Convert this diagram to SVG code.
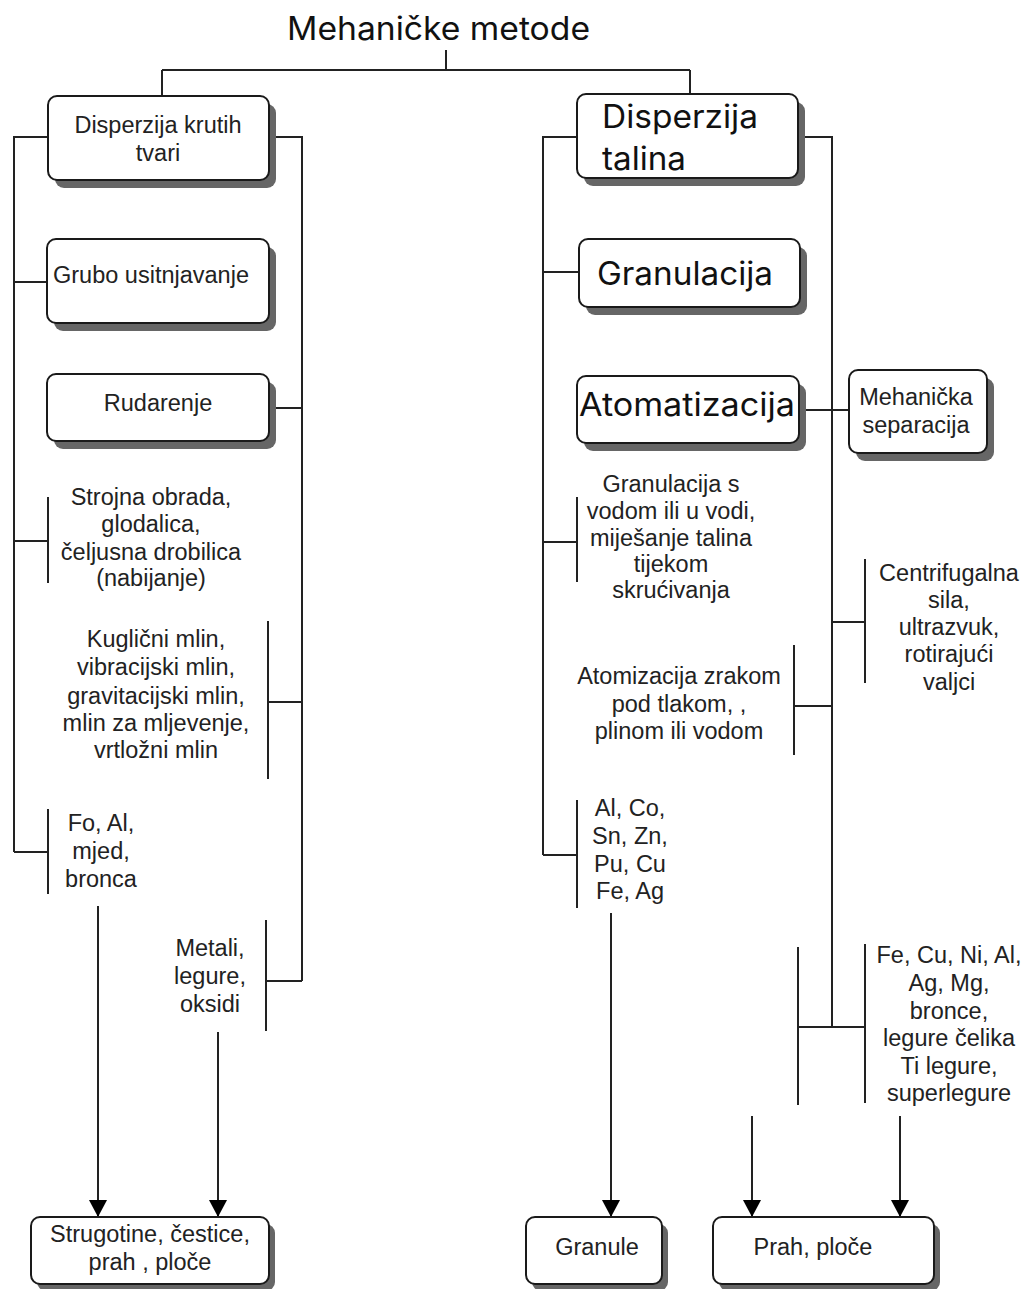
<svg xmlns="http://www.w3.org/2000/svg" width="1024" height="1289" viewBox="0 0 1024 1289">
<defs>
<style>
.box{fill:#ffffff;stroke:#1a1a1a;stroke-width:2}
.sh{fill:#666666}
.ln{fill:none;stroke:#222;stroke-width:2}
.t{font-family:"Liberation Sans",Arial,sans-serif;font-size:23.5px;fill:#222;text-anchor:middle}
.big{font-family:Inter,"Liberation Sans",sans-serif;font-size:32px;fill:#111}
.title{font-family:Inter,"Liberation Sans",sans-serif;font-size:32px;fill:#111;text-anchor:middle}
</style>
<marker id="arr" markerUnits="userSpaceOnUse" markerWidth="18" markerHeight="18" refX="17" refY="9" orient="auto">
<path d="M0,0 L17,9 L0,18 z" fill="#000"/>
</marker>
</defs>
<rect width="1024" height="1289" fill="#ffffff"/>

<g id="connectors">
<path class="ln" d="M446 50 V70 M162 70 H690 M162 70 V96 M690 70 V94"/>
<path class="ln" d="M48 137 H14 V852 M14 282 H47 M14 541 H48 M48 497 V583 M14 852 H48 M48 809 V894"/>
<path class="ln" d="M269 137 H302 V981 M269 408 H302 M268 702 H302 M268 621 V779 M266 981 H302 M266 920 V1031"/>
<path class="ln" d="M577 137 H543 V855 M543 272 H579 M543 542 H577 M577 497 V582 M543 855 H577 M577 800 V908"/>
<path class="ln" d="M798 137 H832 V1027 M799 410 H849 M832 622 H865 M865 559 V683 M794 706 H832 M794 645 V755 M798 1027 H865 M798 947 V1105 M865 944 V1103"/>
<path class="ln" d="M98 906 V1217" marker-end="url(#arr)"/>
<path class="ln" d="M218 1032 V1217" marker-end="url(#arr)"/>
<path class="ln" d="M611 913 V1217" marker-end="url(#arr)"/>
<path class="ln" d="M752 1116 V1217" marker-end="url(#arr)"/>
<path class="ln" d="M900 1116 V1217" marker-end="url(#arr)"/>
</g>

<g id="title"><text class="title" x="438.5" y="40" textLength="303" lengthAdjust="spacingAndGlyphs">Mehaničke metode</text></g>

<g id="n-disperzija-krutih">
<rect class="sh" x="55" y="104" width="221" height="84" rx="9"/>
<rect class="box" x="48" y="96" width="221" height="84" rx="9"/>
<text class="t" x="158" y="133">Disperzija krutih</text>
<text class="t" x="158" y="161">tvari</text>
</g>
<g id="n-grubo">
<rect class="sh" x="54" y="247" width="222" height="84" rx="9"/>
<rect class="box" x="47" y="239" width="222" height="84" rx="9"/>
<text class="t" x="151" y="283">Grubo usitnjavanje</text>
</g>
<g id="n-rudarenje">
<rect class="sh" x="54" y="382" width="222" height="67" rx="9"/>
<rect class="box" x="47" y="374" width="222" height="67" rx="9"/>
<text class="t" x="158" y="411">Rudarenje</text>
</g>
<g id="n-strojna">
<text class="t" x="151" y="505">Strojna obrada,</text>
<text class="t" x="151" y="532">glodalica,</text>
<text class="t" x="151" y="560">čeljusna drobilica</text>
<text class="t" x="151" y="586">(nabijanje)</text>
</g>
<g id="n-kuglicni">
<text class="t" x="156" y="647">Kuglični mlin,</text>
<text class="t" x="156" y="675">vibracijski mlin,</text>
<text class="t" x="156" y="704">gravitacijski mlin,</text>
<text class="t" x="156" y="731">mlin za mljevenje,</text>
<text class="t" x="156" y="758">vrtložni mlin</text>
</g>
<g id="n-fo-al">
<text class="t" x="101" y="831">Fo, Al,</text>
<text class="t" x="101" y="859">mjed,</text>
<text class="t" x="101" y="887">bronca</text>
</g>
<g id="n-metali">
<text class="t" x="210" y="956">Metali,</text>
<text class="t" x="210" y="984">legure,</text>
<text class="t" x="210" y="1012">oksidi</text>
</g>
<g id="n-strugotine">
<rect class="sh" x="37" y="1224" width="238" height="67" rx="9"/>
<rect class="box" x="31" y="1217" width="238" height="67" rx="9"/>
<text class="t" x="150" y="1242">Strugotine, čestice,</text>
<text class="t" x="150" y="1270">prah , ploče</text>
</g>

<g id="n-disperzija-talina">
<rect class="sh" x="584" y="102" width="221" height="84" rx="9"/>
<rect class="box" x="577" y="94" width="221" height="84" rx="9"/>
<text class="big" x="602" y="128" textLength="156" lengthAdjust="spacingAndGlyphs">Disperzija</text>
<text class="big" x="602" y="170" textLength="84" lengthAdjust="spacingAndGlyphs">talina</text>
</g>
<g id="n-granulacija">
<rect class="sh" x="586" y="247" width="221" height="68" rx="9"/>
<rect class="box" x="579" y="239" width="221" height="68" rx="9"/>
<text class="big" x="597" y="285" textLength="176" lengthAdjust="spacingAndGlyphs">Granulacija</text>
</g>
<g id="n-atomatizacija">
<rect class="sh" x="584" y="384" width="222" height="67" rx="9"/>
<rect class="box" x="577" y="376" width="222" height="67" rx="9"/>
<text class="big" x="579" y="416" textLength="216" lengthAdjust="spacingAndGlyphs">Atomatizacija</text>
</g>
<g id="n-mehanicka">
<rect class="sh" x="856" y="378" width="138" height="83" rx="9"/>
<rect class="box" x="849" y="370" width="138" height="83" rx="9"/>
<text class="t" x="916" y="405">Mehanička</text>
<text class="t" x="916" y="433">separacija</text>
</g>
<g id="n-granulacija-s">
<text class="t" x="671" y="492">Granulacija s</text>
<text class="t" x="671" y="519">vodom ili u vodi,</text>
<text class="t" x="671" y="546">miješanje talina</text>
<text class="t" x="671" y="572">tijekom</text>
<text class="t" x="671" y="598">skrućivanja</text>
</g>
<g id="n-centrifugalna">
<text class="t" x="949" y="581">Centrifugalna</text>
<text class="t" x="949" y="608">sila,</text>
<text class="t" x="949" y="635">ultrazvuk,</text>
<text class="t" x="949" y="662">rotirajući</text>
<text class="t" x="949" y="690">valjci</text>
</g>
<g id="n-atomizacija-zrakom">
<text class="t" x="679" y="684">Atomizacija zrakom</text>
<text class="t" x="679" y="712">pod tlakom, ,</text>
<text class="t" x="679" y="739">plinom ili vodom</text>
</g>
<g id="n-al-co">
<text class="t" x="630" y="816">Al, Co,</text>
<text class="t" x="630" y="844">Sn, Zn,</text>
<text class="t" x="630" y="872">Pu, Cu</text>
<text class="t" x="630" y="899">Fe, Ag</text>
</g>
<g id="n-fe-cu">
<text class="t" x="949" y="963">Fe, Cu, Ni, Al,</text>
<text class="t" x="949" y="991">Ag, Mg,</text>
<text class="t" x="949" y="1019">bronce,</text>
<text class="t" x="949" y="1046">legure čelika</text>
<text class="t" x="949" y="1074">Ti legure,</text>
<text class="t" x="949" y="1101">superlegure</text>
</g>
<g id="n-granule">
<rect class="sh" x="532" y="1224" width="136" height="67" rx="9"/>
<rect class="box" x="526" y="1217" width="136" height="67" rx="9"/>
<text class="t" x="597" y="1255">Granule</text>
</g>
<g id="n-prah">
<rect class="sh" x="719" y="1224" width="221" height="67" rx="9"/>
<rect class="box" x="713" y="1217" width="221" height="67" rx="9"/>
<text class="t" x="813" y="1255">Prah, ploče</text>
</g>
</svg>
